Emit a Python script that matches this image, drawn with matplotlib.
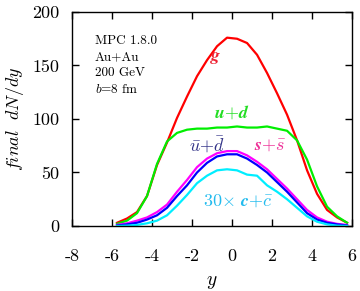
import matplotlib
matplotlib.use('Agg')
import matplotlib.pyplot as plt

plt.rcParams['font.family'] = 'serif'
plt.rcParams['font.serif'] = ['cmr10', 'DejaVu Serif']
plt.rcParams['mathtext.fontset'] = 'cm'
plt.rcParams['axes.unicode_minus'] = False
plt.rcParams['axes.formatter.use_mathtext'] = False

# rapidity bins
y = [-5.75, -5.25, -4.75, -4.25, -3.75, -3.25, -2.75, -2.25, -1.75, -1.25, -0.75, -0.25,
     0.25, 0.75, 1.25, 1.75, 2.25, 2.75, 3.25, 3.75, 4.25, 4.75, 5.25, 5.75]

gluon = [3, 7, 13, 28, 57, 78, 101, 121, 140, 155, 168, 176,
         175, 171, 160, 143, 124, 104, 80, 52, 30, 15, 8, 3]
u_d = [2, 5, 12, 28, 58, 79, 87, 90, 91, 91, 92, 92,
       93, 92, 92, 93, 91, 89, 80, 62, 37, 18, 9, 3]
ubar_dbar = [0.5, 1.5, 3, 6, 10, 17, 28, 38, 50, 59, 65, 67,
             67, 63, 57, 50, 41, 32, 22, 12, 6, 3, 1.5, 0.5]
s_sbar = [1, 2.5, 5, 8, 13, 20, 32, 43, 55, 63, 68, 70,
          70, 66, 60, 53, 44, 35, 25, 15, 8, 4, 2, 1]
c_cbar30 = [0, 0.3, 1, 2.5, 5, 10, 19, 29, 40, 47, 52, 53,
            52, 48, 47, 38, 32, 25, 17, 9, 4, 1.5, 0.3, 0]

xticks = [-8, -6, -4, -2, 0, 2, 4, 6]
yticks = [0, 50, 100, 150, 200]

fig = plt.figure(figsize=(3.6, 2.91), dpi=100)
ax = fig.add_axes([0.2, 0.2234, 0.778, 0.7354])

lw = 1.6
ax.plot(y, gluon, color='#ff0000', lw=lw)
ax.plot(y, u_d, color='#00ee00', lw=lw)
ax.plot(y, s_sbar, color='#ff00ff', lw=lw)
ax.plot(y, ubar_dbar, color='#0000ff', lw=lw)
ax.plot(y, c_cbar30, color='#00eeff', lw=lw)

# curve labels
fs = 13
ax.text(-0.8, 157, r'$\boldsymbol{g}$', color='#ee2233', fontsize=fs, ha='center', va='center')
ax.text(0.0, 106, r'$\boldsymbol{u{+}d}$', color='#22dd22', fontsize=fs, ha='center', va='center')
ax.text(-1.25, 76, r'$\boldsymbol{\bar{u}{+}\bar{d}}$', color='#333388', fontsize=fs, ha='center', va='center')
ax.text(1.9, 76, r'$\boldsymbol{s{+}\bar{s}}$', color='#ee3399', fontsize=fs, ha='center', va='center')
ax.text(0.3, 24, r'$\mathbf{30}\boldsymbol{\times\ c{+}\bar{c}}$', color='#22bbee', fontsize=fs,
        ha='center', va='center')

ax.text(-6.85, 179, 'MPC 1.8.0\nAu+Au\n200 GeV\n$b$=8 fm', fontsize=9.5,
        ha='left', va='top', linespacing=1.45)

ax.set_xlim(-8, 6)
ax.set_ylim(0, 200)
ax.set_xticks(xticks)
ax.set_yticks(yticks)
ax.tick_params(direction='in', top=True, right=True, length=5, width=1, labelsize=13)
ax.tick_params(axis='x', pad=16)
ax.tick_params(axis='y', pad=9)
for s in ax.spines.values():
    s.set_linewidth(1)

ax.set_xlabel(r'$y$', fontsize=14)
ax.set_ylabel(r'$final\ \ dN/dy$', fontsize=13)
ax.xaxis.set_label_coords(0.5, -0.22)
ax.yaxis.set_label_coords(-0.165, 0.5)

fig.savefig('out.png', dpi=100)
